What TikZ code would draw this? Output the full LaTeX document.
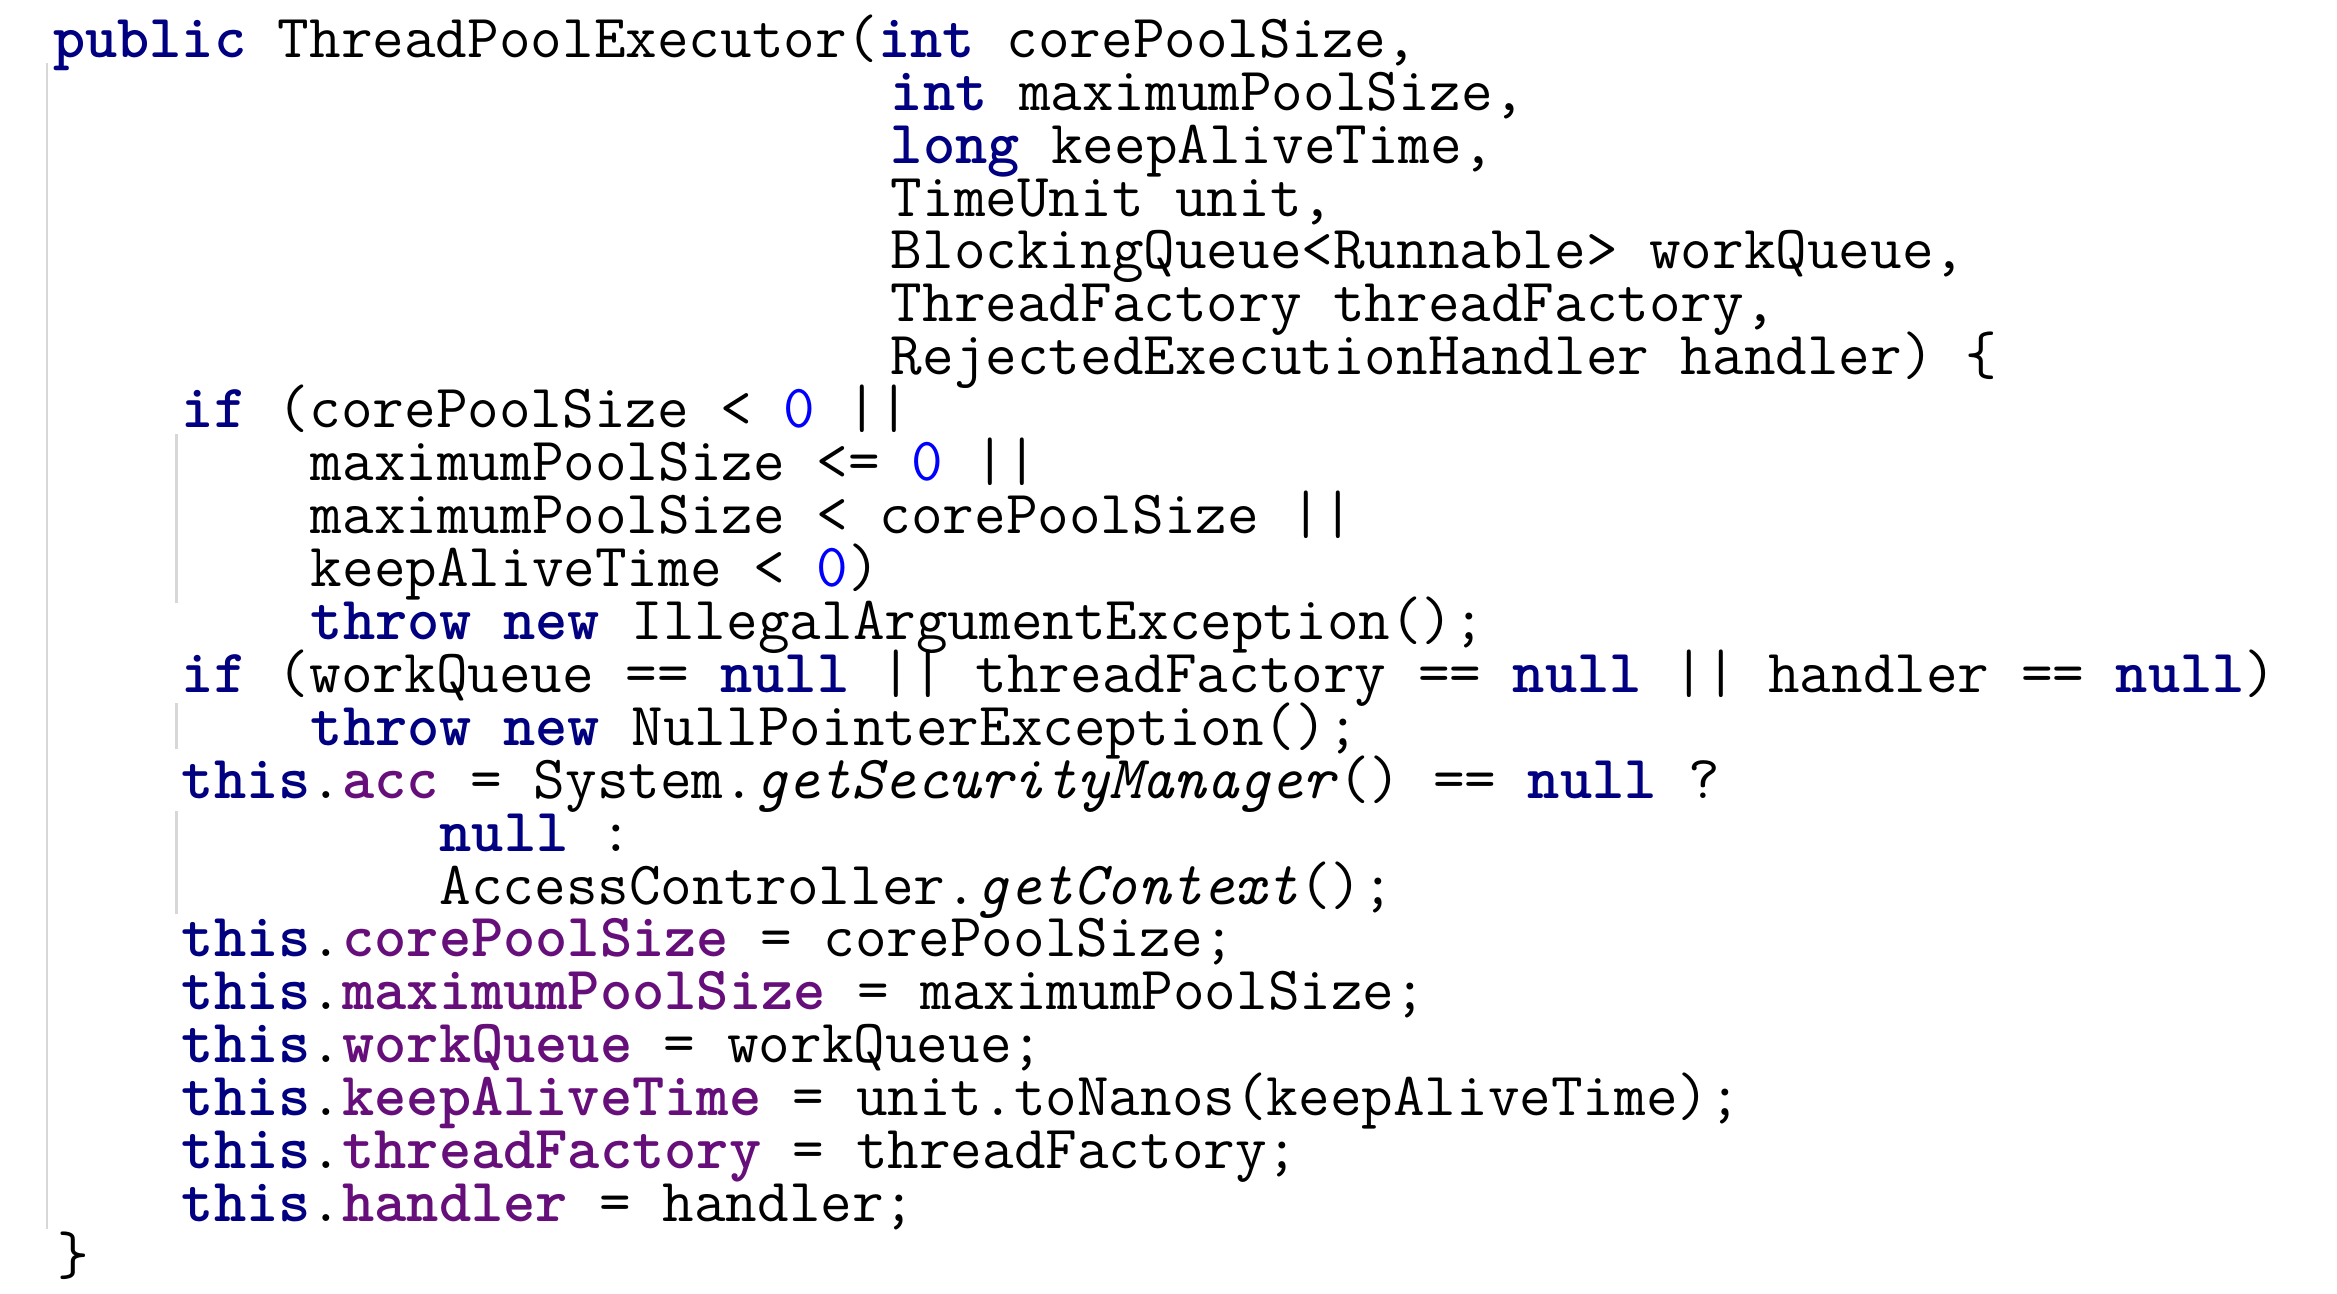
\documentclass[tikz,border=0pt]{standalone}
\usepackage{fontspec}
\definecolor{kwc}{RGB}{0,0,128}
\definecolor{fldc}{RGB}{102,14,122}
\definecolor{numc}{RGB}{0,0,255}
\definecolor{guide}{RGB}{215,215,215}
\newcommand{\kw}[1]{\textcolor{kwc}{\textbf{#1}}}
\newcommand{\fld}[1]{\textcolor{fldc}{\textbf{#1}}}
\newcommand{\nm}[1]{\textcolor{numc}{#1}}
\begin{document}
\begin{tikzpicture}[x=1bp,y=-1bp,
  codeline/.style={anchor=base west,inner sep=0pt,font=\ttfamily\fontsize{40.7bp}{40.7bp}\selectfont},
  guideline/.style={draw=guide,line width=1.5bp}]
\useasboundingbox (0,0) rectangle (1550,858);
\def\ln#1#2#3{\node[codeline] (l#1) at ({35+21.37*#2},{38+35.1*#1}) {#3};}
\draw[guideline] (31,42) -- (31,815);
\draw[guideline] (117,288) -- (117,400);
\draw[guideline] (117,466) -- (117,497);
\draw[guideline] (117,538) -- (117,606);
\ln{0}{0}{\kw{public} ThreadPoolExecutor(\kw{int} corePoolSize,}
\ln{1}{26}{\kw{int} maximumPoolSize,}
\ln{2}{26}{\kw{long} keepAliveTime,}
\ln{3}{26}{TimeUnit unit,}
\ln{4}{26}{BlockingQueue<Runnable> workQueue,}
\ln{5}{26}{ThreadFactory threadFactory,}
\ln{6}{26}{RejectedExecutionHandler handler) \{}
\ln{7}{4}{\kw{if} (corePoolSize < \nm{0} ||}
\ln{8}{8}{maximumPoolSize <= \nm{0} ||}
\ln{9}{8}{maximumPoolSize < corePoolSize ||}
\ln{10}{8}{keepAliveTime < \nm{0})}
\ln{11}{8}{\kw{throw} \kw{new} IllegalArgumentException();}
\ln{12}{4}{\kw{if} (workQueue == \kw{null} || threadFactory == \kw{null} || handler == \kw{null})}
\ln{13}{8}{\kw{throw} \kw{new} NullPointerException();}
\ln{14}{4}{\kw{this}.\fld{acc} = System.\textit{getSecurityManager}() == \kw{null} ?}
\ln{15}{12}{\kw{null} :}
\ln{16}{12}{AccessController.\textit{getContext}();}
\ln{17}{4}{\kw{this}.\fld{corePoolSize} = corePoolSize;}
\ln{18}{4}{\kw{this}.\fld{maximumPoolSize} = maximumPoolSize;}
\ln{19}{4}{\kw{this}.\fld{workQueue} = workQueue;}
\ln{20}{4}{\kw{this}.\fld{keepAliveTime} = unit.toNanos(keepAliveTime);}
\ln{21}{4}{\kw{this}.\fld{threadFactory} = threadFactory;}
\ln{22}{4}{\kw{this}.\fld{handler} = handler;}
\node[codeline] (l23) at (38,{38+35.1*23}) {\}};
\end{tikzpicture}
\end{document}
